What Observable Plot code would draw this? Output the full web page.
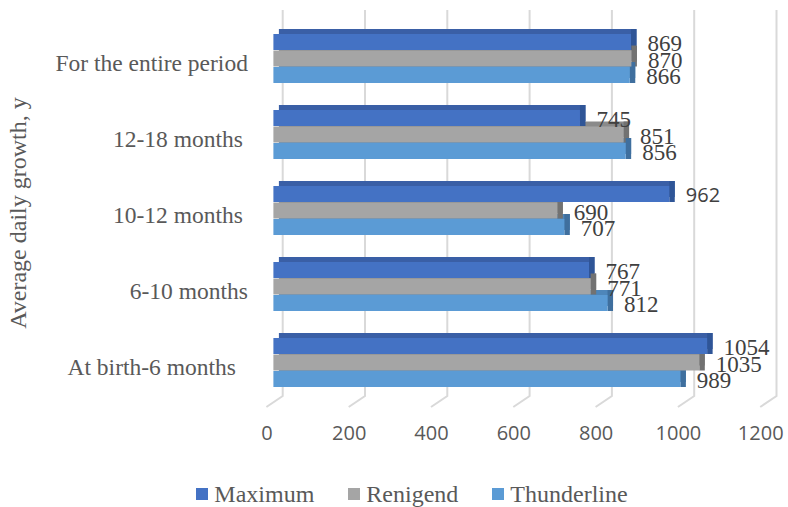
<!DOCTYPE html>
<html><head><meta charset="utf-8">
<script src="https://cdn.jsdelivr.net/npm/d3@7"></script>
<script src="https://cdn.jsdelivr.net/npm/@observablehq/plot@0.6"></script>
<style>
body{margin:0;background:#fff;width:788px;height:507px;position:relative;overflow:hidden}
#chart{position:absolute;left:0;top:0}
#legend{position:absolute;left:0;top:480px;width:788px;height:28px;display:flex;justify-content:center;align-items:center;padding-left:36px;box-sizing:border-box;font-family:"Liberation Serif","Times New Roman",serif;font-size:24px;color:#595959}
.item{display:flex;align-items:center;margin:0 17px}
.sw{width:12px;height:12px;margin-right:6px}
</style></head><body><div id="chart"></div><div id="legend"></div>
<script>
// ---- data ----
const categories = ["For the entire period", "12-18 months", "10-12 months", "6-10 months", "At birth-6 months"];
const series = ["Maximum", "Renigend", "Thunderline"];
const maximum = [869, 745, 962, 767, 1054];
const renigend = [870, 851, 690, 771, 1035];
const thunderline = [866, 856, 707, 812, 989];
const xTicks = [0, 200, 400, 600, 800, 1000, 1200];
const yTitle = "Average daily growth, y";

// ---- table ----
const valuesBySeries = [maximum, renigend, thunderline];
const rows = [];
series.forEach((s, si) => categories.forEach((c, ci) => rows.push({category: c, series: s, value: valuesBySeries[si][ci]})));

// ---- styles ----
const frontColor = {Maximum: "#4472C4", Renigend: "#A5A5A5", Thunderline: "#5B9BD5"};
const topColor = {Maximum: "#3A5FA6", Renigend: "#8A8A8A", Thunderline: "#4E86BA"};
const sideColor = {Maximum: "#2F5597", Renigend: "#727272", Thunderline: "#3F6F9E"};
const labelDx = {"For the entire period": -26, "12-18 months": -31, "10-12 months": -31, "6-10 months": -26, "At birth-6 months": -38};
const serif = "'Liberation Serif','Times New Roman',serif";
const sans = "'Open Sans','Noto Sans',sans-serif";
const band = 49.5, sh = band / 3, depthX = 5.5, depthY = 5;

const gridMark = (index, scales) => {
  const g = d3.create("svg:g");
  for (const v of xTicks) {
    const xf = scales.x(v);
    g.append("path")
      .attr("d", `M${xf + 9.3},10L${xf + 9.3},396L${xf - 7},407`)
      .attr("fill", "none").attr("stroke", "#D9D9D9").attr("stroke-width", 2);
  }
  return g.node();
};

const marks = [gridMark];
series.forEach((s, i) => {
  const sub = rows.filter(d => d.series === s);
  marks.push(Plot.barX(sub, {x1: 0, x2: "value", y: "category", fill: topColor[s],
    insetTop: i * sh, insetBottom: (2 - i) * sh, dx: depthX, dy: -depthY}));
});
series.forEach((s, i) => {
  const sub = rows.filter(d => d.series === s);
  marks.push(Plot.barX(sub, {x1: "value", x2: "value", y: "category", fill: sideColor[s],
    insetTop: i * sh - depthY, insetBottom: (2 - i) * sh, insetRight: -depthX}));
});
series.forEach((s, i) => {
  const sub = rows.filter(d => d.series === s);
  marks.push(Plot.barX(sub, {x1: 0, x2: "value", y: "category", fill: frontColor[s],
    insetTop: i * sh, insetBottom: (2 - i) * sh}));
});
// data labels
const isSans = d => d.series === "Maximum" && d.category === "10-12 months";
series.forEach((s, i) => {
  const sub = rows.filter(d => d.series === s);
  marks.push(Plot.text(sub.filter(d => !isSans(d)), {x: "value", y: "category", text: d => String(d.value),
    textAnchor: "start", dx: 16, dy: (i - 1) * sh + 1.5, fontFamily: serif, fontSize: 23, fill: "#404040"}));
  marks.push(Plot.text(sub.filter(isSans), {x: "value", y: "category", text: d => String(d.value),
    textAnchor: "start", dx: 16, dy: (i - 1) * sh + 1, fontFamily: sans, fontSize: 20, fill: "#404040"}));
});
// category labels
categories.forEach(c => {
  marks.push(Plot.text([c], {x: 0, y: d => d, text: d => d, textAnchor: "end", dx: labelDx[c], dy: 4,
    fontFamily: serif, fontSize: 23.5, fill: "#595959"}));
});
// x tick labels
marks.push(Plot.text(xTicks, {x: d => d, text: d => String(d), frameAnchor: "bottom", dx: -7, dy: 44,
  fontFamily: sans, fontSize: 20, fill: "#595959"}));
// y title
marks.push(Plot.text([yTitle], {frameAnchor: "left", text: d => d, rotate: -90, textAnchor: "middle", lineAnchor: "middle", dy: 10,
  fontFamily: serif, fontSize: 24, fill: "#595959"}));

const chart = Plot.plot({
  width: 788, height: 470,
  marginTop: 10, marginBottom: 75, marginLeft: 18, marginRight: 0,
  style: {background: "#fff", overflow: "visible"},
  x: {domain: [0, 1200], range: [273.4, 767.2], axis: null},
  y: {domain: categories, range: [6.6, 415.5], padding: 0.352, axis: null},
  marks
});
document.getElementById("chart").append(chart);

// legend
const legend = document.getElementById("legend");
series.forEach(s => {
  const it = document.createElement("div"); it.className = "item";
  const sw = document.createElement("div"); sw.className = "sw"; sw.style.background = frontColor[s];
  const tx = document.createElement("span"); tx.textContent = s;
  it.append(sw, tx); legend.append(it);
});
</script></body></html>
